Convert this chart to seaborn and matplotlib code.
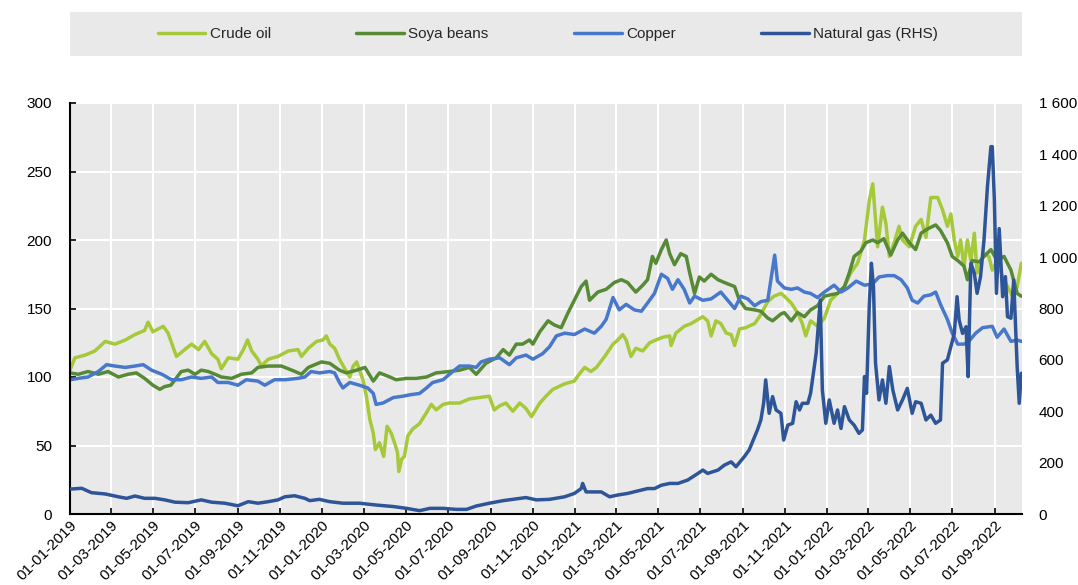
import matplotlib
matplotlib.use("Agg")
import matplotlib.pyplot as plt
import matplotlib.dates as mdates
from matplotlib.patches import Rectangle
from matplotlib.ticker import FuncFormatter, MultipleLocator
import pandas as pd
import seaborn as sns

START = pd.Timestamp("2019-01-01")
END_DAY = 1378

# day offsets from 01-01-2019 and index values
crude_days = [0, 7, 22, 36, 51, 65, 80, 94, 108, 113, 120, 135, 142, 154, 166, 176, 186, 195, 205, 214,
              219, 229, 243, 251, 257, 263, 272, 277, 287, 301, 316, 330, 335, 345,
              357, 366, 371, 376, 383, 390, 400, 405, 410, 415, 419, 424, 429, 434, 439, 442, 448, 454, 459, 465,
              471, 474, 476, 480, 484, 489, 496, 506, 516, 523, 530, 540, 549, 564, 578, 593, 607, 614, 622, 631,
              641, 651, 660, 668, 680, 689, 699,
              716, 730, 737, 745, 754, 762, 774, 786, 793, 800, 805, 812, 819, 829, 839, 848, 858, 868, 870, 877,
              889, 899, 909, 916, 923, 928, 935, 942, 950, 957, 962, 969, 978, 991, 998, 1010, 1019, 1029,
              1034, 1044, 1053, 1060, 1065, 1072, 1082, 1092, 1101, 1111, 1121, 1130, 1140, 1150, 1157, 1162,
              1169, 1176, 1181, 1186, 1193, 1200, 1205, 1215, 1224, 1232, 1239, 1246, 1256, 1263, 1270, 1275,
              1280, 1285, 1289, 1294, 1299, 1304, 1309, 1313, 1323, 1330, 1335, 1342, 1350, 1357, 1364, 1371, 1377]
crude_vals = [105, 114, 116, 119, 126, 124, 127, 131, 134, 140, 133, 137, 132, 115, 120, 124, 120, 126, 117, 113,
              106, 114, 113, 120, 127, 119, 113, 108, 113, 115, 119, 120, 115, 121,
              126, 127, 130, 124, 121, 113, 104, 100, 108, 111, 105, 98, 86, 69, 59, 47, 52, 42, 64, 59,
              50, 45, 31, 40, 42, 57, 62, 66, 74, 80, 76, 80, 81, 81, 84, 85, 86, 76, 79, 81,
              75, 81, 77, 71, 81, 86, 91,
              95, 97, 102, 107, 104, 107, 115, 124, 127, 131, 127, 115, 121, 119, 125, 127, 129, 130, 123, 132,
              137, 139, 142, 144, 141, 130, 141, 139, 132, 131, 123, 135, 136, 139, 144, 155, 159, 161,
              159, 154, 147, 139, 130, 141, 137, 143, 156, 161, 166, 176, 183, 200, 229, 241,
              195, 224, 212, 188, 198, 210, 200, 195, 210, 215, 202, 231, 231, 222, 210, 219,
              200, 188, 200, 181, 200, 185, 205, 176, 190, 188, 178, 185, 173, 166, 159, 166, 183]

soya_days = [0, 12, 26, 41, 55, 70, 84, 96, 108, 120, 130, 137, 146, 152, 161, 171, 181, 190, 200, 210,
             219, 234, 248, 263, 272, 287, 306, 321, 335, 345,
             364, 376, 390, 400, 415, 427, 439, 448, 463, 472, 487, 501, 516, 530, 549, 564, 578, 588, 602, 617,
             627, 636, 646, 655, 665, 670, 680, 692, 701,
             711, 721, 730, 740, 747, 752, 764, 776, 788, 798, 807, 819, 829, 836, 843, 848, 856, 863, 868, 875,
             884, 892, 897, 904, 911, 918, 928, 938, 947, 962, 969, 978, 991, 1000, 1010, 1017, 1029,
             1034, 1044, 1053, 1063, 1072, 1082, 1092, 1101, 1111, 1121, 1128, 1135, 1145, 1152, 1162, 1169,
             1178, 1188, 1198, 1205, 1215, 1224, 1232, 1241, 1253, 1260, 1270, 1277, 1285, 1294,
             1299, 1306, 1316, 1323, 1333, 1342, 1352, 1362, 1371, 1377]
soya_vals = [103, 102, 104, 102, 104, 100, 102, 103, 99, 94, 91, 93, 94, 98, 104, 105, 102, 105, 104, 102,
             100, 99, 102, 103, 107, 108, 108, 105, 102, 107,
             111, 110, 105, 103, 105, 107, 97, 103, 100, 98, 99, 99, 100, 103, 104, 105, 107, 102, 110, 114,
             120, 116, 124, 124, 127, 124, 133, 141, 138,
             136, 147, 156, 166, 170, 156, 162, 164, 169, 171, 169, 162, 167, 171, 188, 183, 193, 200, 190, 182,
             190, 188, 176, 161, 173, 170, 175, 171, 169, 166, 156, 150, 149, 148, 143, 141, 146,
             147, 141, 147, 144, 149, 152, 159, 160, 161, 166, 176, 188, 192, 198, 200, 198,
             201, 189, 200, 205, 198, 193, 205, 208, 211, 207, 198, 188, 185, 181,
             171, 185, 184, 188, 193, 185, 188, 178, 161, 159]

copper_days = [0, 12, 26, 41, 53, 65, 80, 94, 106, 118, 133, 147, 161, 176, 190, 205, 214, 229, 243, 255,
               272, 282, 296, 311, 330, 340, 349,
               361, 376, 383, 390, 395, 405, 419, 431, 439, 443, 453, 468, 482, 492, 506, 516, 525, 540, 554, 564,
               578, 588, 595, 607, 622, 636, 646, 660, 670, 684, 694, 704,
               716, 730, 745, 759, 769, 776, 786, 795, 805, 817, 827, 836, 846, 856, 865, 872, 880, 889, 897, 904,
               916, 928, 942, 952, 962, 971, 981, 991, 1000, 1010, 1020, 1024, 1034,
               1044, 1053, 1063, 1072, 1082, 1092, 1106, 1116, 1126, 1138, 1150, 1162, 1171, 1183, 1193, 1203,
               1212, 1219, 1227, 1236, 1246, 1253, 1260, 1270, 1277, 1285, 1294, 1301, 1311, 1321,
               1335, 1342, 1352, 1362, 1371, 1377]
copper_vals = [98, 99, 100, 104, 109, 108, 107, 108, 109, 105, 102, 98, 98, 100, 99, 100, 96, 96, 94, 98,
               97, 94, 98, 98, 99, 100, 104,
               103, 104, 103, 96, 92, 96, 94, 92, 88, 80, 81, 85, 86, 87, 88, 92, 96, 98, 104, 108,
               108, 107, 111, 113, 114, 109, 114, 116, 113, 117, 122, 130,
               132, 131, 135, 132, 137, 142, 158, 149, 153, 149, 148, 154, 161, 175, 172, 164, 171, 164, 154, 159,
               156, 157, 162, 156, 150, 159, 157, 152, 155, 156, 189, 170, 165,
               164, 165, 162, 161, 158, 162, 167, 162, 165, 170, 167, 168, 173, 174, 174, 171,
               165, 156, 154, 159, 160, 162, 153, 142, 132, 124, 124, 126, 132, 136,
               137, 129, 135, 126, 127, 126]

gas_days = [0, 17, 31, 51, 70, 82, 94, 108, 123, 137, 152, 171, 190, 205, 224, 243, 258, 272, 287, 301,
            311, 325, 340,
            347, 361, 376, 395, 419, 443, 468, 487, 506, 521, 540, 559, 574, 588, 607, 627, 641, 660, 675, 694, 709,
            716, 730, 740, 742, 747, 759, 769, 781, 793, 807, 822, 836, 846, 856, 868, 880, 894, 909, 916, 923,
            938, 947, 957, 964, 976, 983, 991, 995, 1000, 1004, 1007, 1012, 1017, 1022, 1029, 1033,
            1039, 1046, 1051, 1056, 1060, 1068, 1072, 1080, 1086, 1089, 1094, 1099, 1106, 1111, 1116, 1121,
            1128, 1135, 1142, 1147, 1150, 1153, 1157, 1160, 1163, 1166, 1171, 1176, 1181, 1186, 1191, 1198,
            1205, 1212, 1219, 1224, 1232, 1239, 1246, 1253, 1260, 1263, 1270, 1275, 1280, 1284, 1287, 1292,
            1297, 1300, 1304, 1309, 1313, 1318, 1323, 1328, 1333, 1335, 1338, 1341, 1345, 1350, 1354, 1357,
            1362, 1366, 1371, 1374, 1377]
gas_vals = [97, 100, 83, 78, 67, 61, 70, 61, 61, 55, 46, 44, 55, 46, 42, 32, 48, 42, 48, 55,
            67, 71, 61,
            52, 57, 48, 42, 42, 35, 29, 22, 13, 22, 22, 18, 18, 31, 42, 52, 57, 64, 55, 57, 64,
            67, 80, 99, 119, 86, 86, 86, 67, 74, 80, 90, 99, 99, 112, 119, 119, 132, 158, 171, 158,
            171, 190, 203, 184, 223, 249, 301, 327, 366, 431, 522, 392, 457, 405, 392, 288,
            346, 353, 437, 405, 431, 431, 470, 625, 833, 483, 353, 444, 353, 405, 333, 418,
            366, 346, 314, 327, 535, 470, 820, 976, 885, 587, 444, 522, 431, 574, 483, 405,
            444, 489, 392, 437, 431, 366, 385, 353, 366, 587, 600, 652, 703, 846, 755, 703,
            729, 535, 976, 937, 859, 924, 1067, 1275, 1430, 1430, 1223, 859, 1111, 846, 924, 768,
            762, 911, 574, 431, 548]

left_series = [("Crude oil", crude_days, crude_vals, "#a6c93a"),
               ("Soya beans", soya_days, soya_vals, "#568a35"),
               ("Copper", copper_days, copper_vals, "#4878cc")]
gas_label = "Natural gas (RHS)"
gas_color = "#2e5597"


def to_frame(days, vals):
    assert len(days) == len(vals)
    return pd.DataFrame({"date": START + pd.to_timedelta(days, unit="D"), "value": vals})


sns.set_style("darkgrid", {"axes.facecolor": "#e9e9e9", "grid.color": "white"})
plt.rcParams["font.family"] = ["Liberation Sans", "DejaVu Sans"]
FS = 11

fig = plt.figure(figsize=(10.78, 5.85), dpi=100)
ax = fig.add_axes([70 / 1078, 71 / 585, 952 / 1078, 411 / 585])
ax2 = ax.twinx()

handles = []
for name, days, vals, color in left_series:
    sns.lineplot(data=to_frame(days, vals), x="date", y="value", ax=ax, color=color, lw=2.5, legend=False)
    handles.append((ax.lines[-1], name))
sns.lineplot(data=to_frame(gas_days, gas_vals), x="date", y="value", ax=ax2, color=gas_color, lw=2.5,
             legend=False)
handles.append((ax2.lines[-1], gas_label))

ax.set_xlim(START, START + pd.Timedelta(days=END_DAY))
ax.set_ylim(0, 300)
ax2.set_ylim(0, 1600)
ax.yaxis.set_major_locator(MultipleLocator(50))
ax2.yaxis.set_major_locator(MultipleLocator(200))
ax2.yaxis.set_major_formatter(FuncFormatter(lambda v, p: f"{int(v):,}".replace(",", " ")))
ax.xaxis.set_major_locator(mdates.MonthLocator(bymonth=[1, 3, 5, 7, 9, 11]))
ax.xaxis.set_major_formatter(mdates.DateFormatter("%d-%m-%Y"))

ax.set_xlabel("")
ax.set_ylabel("")
ax2.set_ylabel("")
ax.grid(True, color="white", lw=1.5)
ax2.grid(False)

for side in ["top", "right"]:
    ax.spines[side].set_visible(False)
for side in ax2.spines:
    ax2.spines[side].set_visible(False)
for side in ["left", "bottom"]:
    ax.spines[side].set_visible(True)
    ax.spines[side].set_color("black")
    ax.spines[side].set_linewidth(1.5)

ax.tick_params(axis="y", direction="in", length=4, width=1.2, color="black", left=True, pad=13,
               labelsize=FS, colors="black")
ax.tick_params(axis="x", direction="in", length=4, width=1.2, color="black", bottom=True, pad=3,
               labelsize=FS, colors="black")
ax2.tick_params(axis="y", length=0, pad=12, labelsize=FS, colors="black")
for lab in ax.get_xticklabels():
    lab.set_rotation(45)
    lab.set_ha("right")
    lab.set_va("top")
    lab.set_rotation_mode("anchor")

# legend strip
fig.add_artist(Rectangle((70 / 1078, 1 - 56 / 585), 952 / 1078, 44 / 585, transform=fig.transFigure,
                         facecolor="#e9e9e9", edgecolor="none", zorder=0))
fig.legend([h for h, _ in handles], [n for _, n in handles], loc="center",
           bbox_to_anchor=(548 / 1078, 1 - 34 / 585), ncol=4, frameon=False, fontsize=FS,
           handlelength=3.1, handletextpad=0.3, columnspacing=5.6)

fig.savefig("out.png", dpi=100)
